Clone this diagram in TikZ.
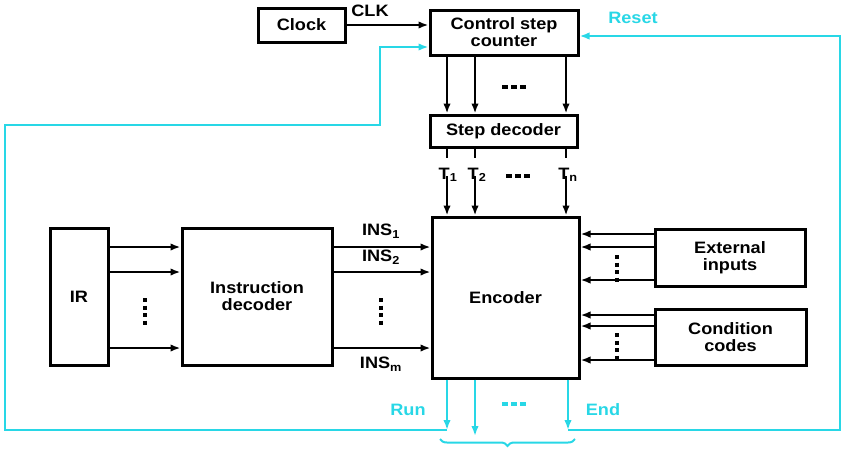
\documentclass[tikz,border=0pt]{standalone}
\usepackage{fontspec}
\setmainfont{Liberation Sans}[FakeStretch=1.1]
\usetikzlibrary{arrows.meta,decorations.pathreplacing}
\definecolor{cy}{RGB}{40,215,230}
\begin{document}
\begin{tikzpicture}[x=1pt,y=-1pt,
  font=\fontsize{16.5}{17}\selectfont\bfseries,
  box/.style={draw,line width=3pt,align=center,inner sep=0pt},
  arr/.style={line width=2.5pt,-{Latex[length=10pt,width=7.5pt]}},
  ln/.style={line width=2.5pt},
  carr/.style={cy,line width=2.6pt,-{Latex[length=10pt,width=7.5pt]}},
  lbl/.style={inner sep=0pt},
  vdots/.style={line width=3.5pt,dash pattern=on 4pt off 3.5pt},
  hdots/.style={line width=4pt,dash pattern=on 6pt off 3pt}]
\useasboundingbox (0,0) rectangle (843,450);
% boxes
\node[box,minimum width=87pt,minimum height=34pt] (clock) at (301.5,25) {Clock};
\node[box,minimum width=148pt,minimum height=45pt] (csc) at (504,32.5) {Control step\\counter};
\node[box,minimum width=147pt,minimum height=32pt] (sd) at (503.5,131) {Step decoder};
\node[box,minimum width=147pt,minimum height=161pt] (enc) at (505.5,297.5) {Encoder};
\node[box,minimum width=58pt,minimum height=137pt] (ir) at (79,296.5) {IR};
\node[box,minimum width=150pt,minimum height=137pt] (id) at (257,296.5) {Instruction\\decoder};
\node[box,minimum width=150pt,minimum height=57pt] (ext) at (730,257.5) {External\\inputs};
\node[box,minimum width=151pt,minimum height=56pt] (cc) at (730.5,337) {Condition\\codes};
% labels
\node[lbl] (clk) at (370,11) {CLK};
\node[lbl,text=cy] (reset) at (633,18) {Reset};
\node[lbl] (t1) at (448,175) {T\textsubscript{1}};
\node[lbl] (t2) at (477,175) {T\textsubscript{2}};
\node[lbl] (tn) at (568,175) {T\textsubscript{n}};
\node[lbl] (ins1) at (381,231) {INS\textsubscript{1}};
\node[lbl] (ins2) at (381,257) {INS\textsubscript{2}};
\node[lbl] (insm) at (381,364) {INS\textsubscript{m}};
\node[lbl,text=cy] (run) at (408,410) {Run};
\node[lbl,text=cy] (endl) at (603,410) {End};
% clock
\draw[arr] (clock.east) -- (clock.east -| csc.west);
% csc to step decoder
\foreach \x in {447,475,566}{
  \draw[arr] (csc.south -| \x,0) -- (sd.north -| \x,0);
}
\draw[hdots] (502,87) -- (526,87);
% step decoder to T labels to encoder
\coordinate (k1) at (447,158);
\coordinate (k2) at (475,158);
\coordinate (kn) at (566,158);
\draw[ln] (sd.south -| k1) -- (k1);
\draw[ln] (sd.south -| k2) -- (k2);
\draw[ln] (sd.south -| kn) -- (kn);
\draw[arr] ([yshift=6pt]t1.south -| k1) -- (enc.north -| k1);
\draw[arr] ([yshift=6pt]t2.south -| k2) -- (enc.north -| k2);
\draw[arr] ([yshift=6pt]tn.south -| kn) -- (enc.north -| kn);
\draw[hdots] (506,176) -- (530,176);
% IR to ID to encoder
\foreach \y in {247,272,348}{
  \draw[arr] (ir.east |- 0,\y) -- (id.west |- 0,\y);
  \draw[arr] (id.east |- 0,\y) -- (enc.west |- 0,\y);
}
\draw[vdots] (145,298) -- (145,326);
\draw[vdots] (381,298) -- (381,326);
% external / condition
\foreach \y in {234,247,280}{
  \draw[arr] (ext.west |- 0,\y) -- (enc.east |- 0,\y);
}
\foreach \y in {315,326,360}{
  \draw[arr] (cc.west |- 0,\y) -- (enc.east |- 0,\y);
}
\draw[vdots] (617,255) -- (617,283);
\draw[vdots] (617,333) -- (617,361);
% bottom outputs
\coordinate (runb) at (447,430);
\coordinate (midb) at (475,430);
\coordinate (endb) at (568,430);
\draw[carr] (enc.south -| runb) -- (runb);
\draw[carr] (enc.south -| midb) -- ([yshift=-6pt]midb);
\draw[carr] (enc.south -| endb) -- (endb);
\draw[cy,line width=4pt,dash pattern=on 6pt off 3pt] (502,404) -- (526,404);
% feedback loops
\draw[carr] (runb) -- (5,430) -- (5,125) -- (380,125) -- (380,47) -- (csc.west |- 0,47);
\draw[carr] (endb) -- (840,430) -- (840,36) -- (csc.east |- 0,36);
% brace
\draw[cy,line width=2pt,decorate,decoration={brace,mirror,amplitude=7pt}] (440,439) -- (575,439);
\end{tikzpicture}
\end{document}
